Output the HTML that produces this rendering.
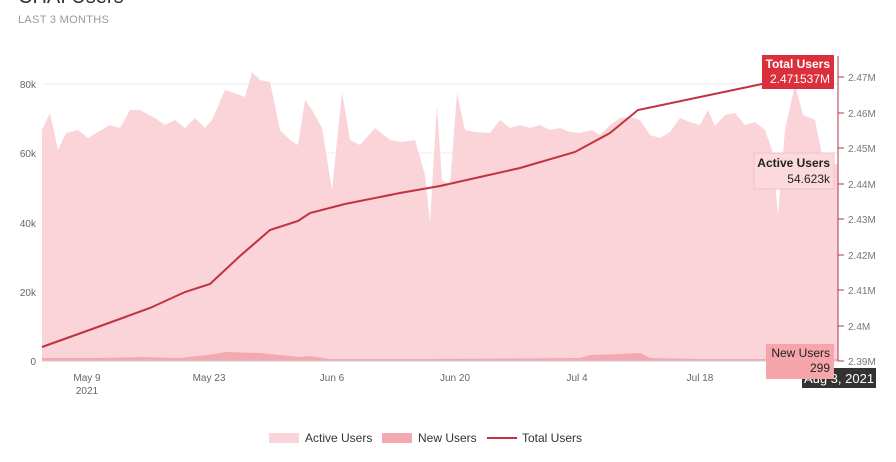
<!DOCTYPE html><html><head><style>body{margin:0;background:#fff;font-family:"Liberation Sans",sans-serif}</style></head><body>
<svg width="896" height="457" xmlns="http://www.w3.org/2000/svg" font-family="Liberation Sans, sans-serif">
<text x="18" y="3" font-size="20" fill="#333">CHAI Users</text>
<text x="18" y="23" font-size="11" fill="#999" letter-spacing="0.3">LAST 3 MONTHS</text>
<g stroke="#eee" stroke-width="1"><line x1="42" y1="84" x2="838" y2="84"/><line x1="42" y1="153" x2="838" y2="153"/><line x1="42" y1="223" x2="838" y2="223"/><line x1="42" y1="292" x2="838" y2="292"/></g>
<g font-size="10" fill="#666" text-anchor="end"><text x="36" y="88">80k</text><text x="36" y="157">60k</text><text x="36" y="227">40k</text><text x="36" y="296">20k</text><text x="36" y="365">0</text></g>
<polygon fill="#fad4d8" points="42,361 42,130 50,113 58,150 66,133 78,130 88,138 98,132 110,125 120,128 130,110 140,110 155,118 165,125 175,120 185,128 195,118 205,128 212,120 225,90 240,95 245,97 252,72 260,80 270,82 280,130 290,140 298,145 305,100 312,110 322,128 332,190 342,92 350,140 360,145 375,128 390,140 402,142 415,140 425,175 430,222 437,105 442,180 450,185 457,93 465,130 475,132 490,133 500,120 510,128 520,125 530,128 540,125 550,130 560,128 570,132 580,133 592,130 600,135 610,125 620,118 630,117 640,120 650,135 660,138 670,132 680,118 690,122 700,125 708,110 715,126 725,115 735,113 745,125 755,122 765,130 772,150 778,215 785,130 795,85 803,115 815,120 823,160 838,165 838,361"/>
<polygon fill="#f4a9b0" points="42,361 42,358 100,358 140,357 180,358 215,354 225,352 260,353 280,355 300,357 310,356 330,359 420,359 580,358 590,355 620,354 640,353 650,358 700,359 838,359 838,361"/>
<polyline fill="none" stroke="#c0343e" stroke-width="2" points="42,347 95,328 150,308 185,292 210,284 240,256 270,230 298,221 310,213 345,204 400,193 440,186 480,177 520,168 575,152 610,133 638,110 700,97 762,84 790,77"/>
<line x1="42" y1="361" x2="838" y2="361" stroke="#ccc"/>
<line x1="838" y1="56" x2="838" y2="361" stroke="#b03a44"/>
<g font-size="10" fill="#777"><text x="848" y="81">2.47M</text><text x="848" y="117">2.46M</text><text x="848" y="152">2.45M</text><text x="848" y="188">2.44M</text><text x="848" y="223">2.43M</text><text x="848" y="259">2.42M</text><text x="848" y="294">2.41M</text><text x="848" y="330">2.4M</text><text x="848" y="365">2.39M</text></g>
<g stroke="#b03a44"><line x1="838" y1="77" x2="844" y2="77"/><line x1="838" y1="113" x2="844" y2="113"/><line x1="838" y1="148" x2="844" y2="148"/><line x1="838" y1="184" x2="844" y2="184"/><line x1="838" y1="219" x2="844" y2="219"/><line x1="838" y1="255" x2="844" y2="255"/><line x1="838" y1="290" x2="844" y2="290"/><line x1="838" y1="326" x2="844" y2="326"/><line x1="838" y1="361" x2="844" y2="361"/></g>
<g font-size="10" fill="#666" text-anchor="middle"><text x="87" y="381">May 9</text><text x="87" y="394">2021</text><text x="209" y="381">May 23</text><text x="332" y="381">Jun 6</text><text x="455" y="381">Jun 20</text><text x="577" y="381">Jul 4</text><text x="700" y="381">Jul 18</text></g>
<rect x="802" y="368" width="74" height="20" fill="#333"/><text x="839" y="383" font-size="13" fill="#fff" text-anchor="middle">Aug 3, 2021</text>
<rect x="762" y="55" width="72" height="34" fill="#dc2f3c"/><text x="830" y="68" font-size="12" font-weight="bold" fill="#fff" text-anchor="end">Total Users</text><text x="830" y="83" font-size="12" fill="#fff" text-anchor="end">2.471537M</text>
<rect x="754" y="153" width="80" height="36" fill="#fbd9dc" stroke="#f2c4c8"/><text x="830" y="167" font-size="12" font-weight="bold" fill="#222" text-anchor="end">Active Users</text><text x="830" y="183" font-size="12" fill="#222" text-anchor="end">54.623k</text>
<rect x="766" y="344" width="68" height="35" fill="#f6a5ab"/><text x="830" y="357" font-size="12" fill="#222" text-anchor="end">New Users</text><text x="830" y="372" font-size="12" fill="#222" text-anchor="end">299</text>
<g font-size="12" fill="#333"><rect x="269" y="433" width="30" height="10" fill="#fad4d8"/><text x="305" y="442">Active Users</text><rect x="382" y="433" width="30" height="10" fill="#f4a9b0"/><text x="418" y="442">New Users</text><line x1="487" y1="438" x2="517" y2="438" stroke="#c0343e" stroke-width="2"/><text x="522" y="442">Total Users</text></g>
</svg></body></html>
